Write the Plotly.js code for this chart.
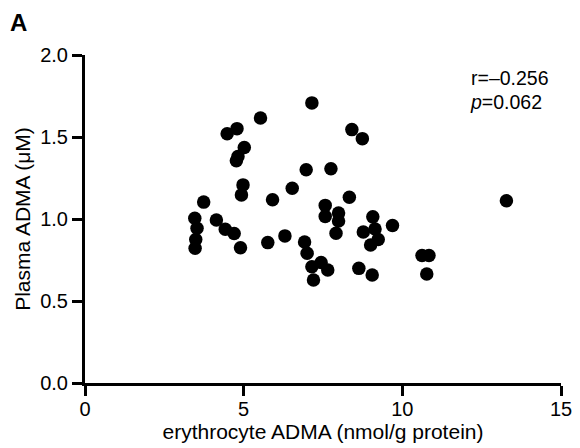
<!DOCTYPE html>
<html>
<head>
<meta charset="utf-8">
<script src="https://cdn.plot.ly/plotly-3.0.1.min.js"></script>
<style>html,body{margin:0;padding:0;background:#fff;}#chart{width:580px;height:448px;}</style>
</head>
<body>
<div id="chart"></div>
<script>
const erythrocyteADMA = [7.15,5.53,4.79,4.48,8.41,8.74,5.02,4.82,4.77,6.97,7.75,4.98,4.93,6.53,5.91,8.33,3.74,7.57,7.57,7.99,7.99,9.07,9.69,4.14,7.91,8.77,9.14,9.00,9.24,5.76,6.30,6.92,7.00,7.44,7.15,7.65,7.20,8.63,9.05,10.62,10.84,10.77,13.28,3.46,3.53,3.49,3.47,4.42,4.70,4.90];
const plasmaADMA = [1.708,1.616,1.551,1.520,1.545,1.490,1.436,1.381,1.355,1.300,1.306,1.208,1.147,1.188,1.117,1.133,1.103,1.083,1.016,1.037,0.988,1.013,0.961,0.994,0.913,0.921,0.939,0.842,0.875,0.856,0.897,0.860,0.791,0.735,0.709,0.689,0.628,0.699,0.658,0.778,0.778,0.664,1.111,1.004,0.944,0.875,0.822,0.938,0.911,0.825];
const xTicks = [0,5,10,15];
const xTickText = ['0','5','10','15'];
const yTicks = [0,0.5,1.0,1.5,2.0];
const yTickText = ['0.0','0.5','1.0','1.5','2.0'];
const statR = 'r=\u20130.256';
const statP = '<i>p</i>=0.062';
const panelLabel = '<b>A</b>';

const FONT = 'Arial, "Liberation Sans", sans-serif';

const trace = {
  x: erythrocyteADMA, y: plasmaADMA, type: 'scatter', mode: 'markers',
  marker: {color: '#000', size: 13.5, line: {width: 0}},
  cliponaxis: false, hoverinfo: 'skip'
};

const layout = {
  width: 580, height: 448,
  margin: {l: 85, r: 19, t: 55, b: 65, autoexpand: false},
  paper_bgcolor: '#fff', plot_bgcolor: '#fff',
  font: {family: FONT, size: 20, color: '#000'},
  showlegend: false,
  xaxis: {
    range: [0, 15], tickvals: xTicks, ticktext: xTickText,
    showline: true, linecolor: '#000', linewidth: 3,
    ticks: 'outside', ticklen: 10, tickwidth: 3, tickcolor: '#000',
    showgrid: false, zeroline: false, automargin: false,
    tickfont: {size: 20}, ticklabelstandoff: -4,
    title: {text: 'erythrocyte ADMA (nmol/g protein)', font: {size: 21}, standoff: 4}
  },
  yaxis: {
    range: [0, 2], tickvals: yTicks, ticktext: yTickText,
    showline: true, linecolor: '#000', linewidth: 3,
    ticks: 'outside', ticklen: 10, tickwidth: 3, tickcolor: '#000',
    showgrid: false, zeroline: false, automargin: false,
    tickfont: {size: 20},
    title: {text: 'Plasma ADMA (\u03bcM)', font: {size: 21}, standoff: 4}
  },
  annotations: [
    {xref: 'paper', yref: 'paper', x: 0.807, y: 0.93, xanchor: 'left', yanchor: 'middle', text: statR, showarrow: false, font: {size: 19.5}},
    {xref: 'paper', yref: 'paper', x: 0.805, y: 0.857, xanchor: 'left', yanchor: 'middle', text: statP, showarrow: false, font: {size: 19.5}},
    {xref: 'paper', yref: 'paper', x: -0.162, y: 1.1, xanchor: 'left', yanchor: 'middle', text: panelLabel, showarrow: false, font: {size: 24}}
  ]
};

Plotly.newPlot('chart', [trace], layout, {displayModeBar: false, staticPlot: true});
</script>
</body>
</html>
